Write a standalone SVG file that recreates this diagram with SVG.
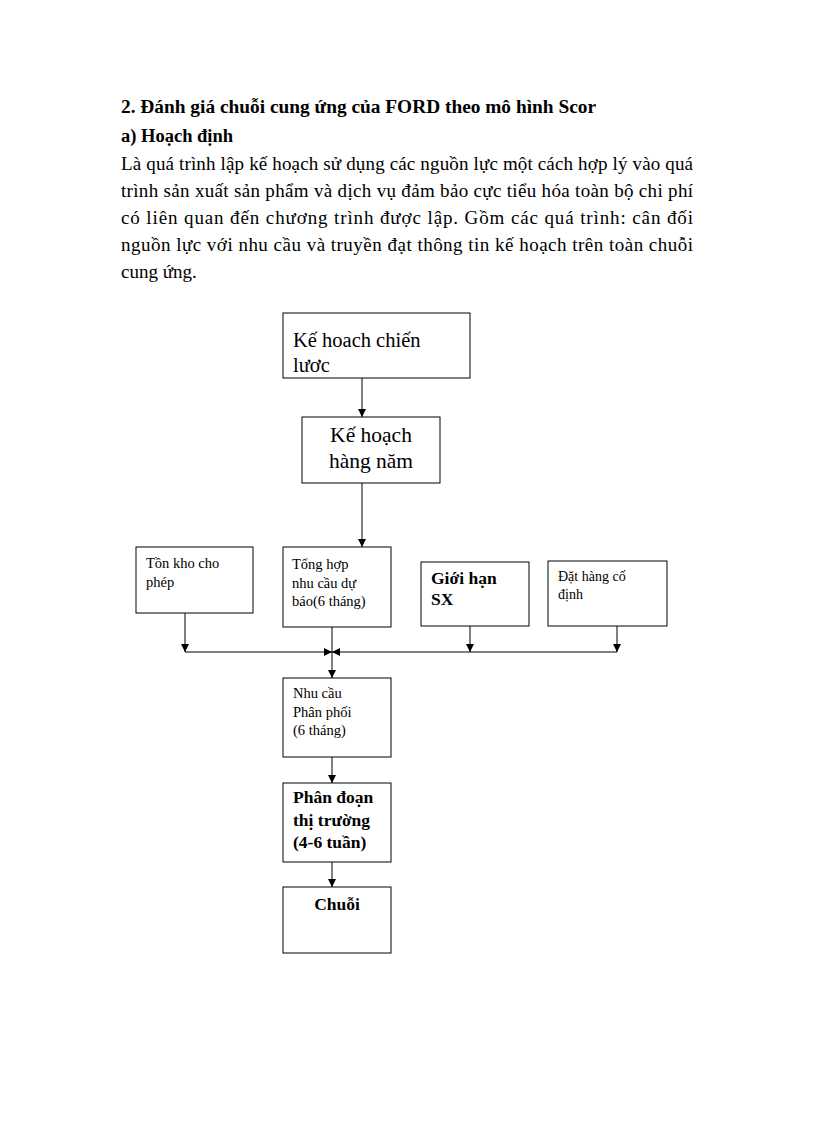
<svg xmlns="http://www.w3.org/2000/svg" width="816" height="1123" viewBox="0 0 816 1123">
<defs>
<style>
.t{font-family:"Liberation Serif","Times New Roman",serif;fill:#000}
.b{font-weight:bold}
.box{fill:#fff;stroke:#000;stroke-width:1}
.ln{fill:none;stroke:#000;stroke-width:1}
</style>
<marker id="ar" viewBox="0 0 10 10" refX="10" refY="5" markerWidth="8" markerHeight="8" markerUnits="userSpaceOnUse" orient="auto">
<path d="M0,0 L10,5 L0,10 z" fill="#000"/>
</marker>
</defs>
<rect width="816" height="1123" fill="#fff"/>
<g id="heading">
<text class="t b" x="121" y="113" font-size="18.5" textLength="475" lengthAdjust="spacingAndGlyphs">2. Đánh giá chuỗi cung ứng của FORD theo mô hình Scor</text>
<text class="t b" x="121" y="142" font-size="18.5">a) Hoạch định</text>
<text class="t" x="121" y="170" font-size="19" textLength="572" lengthAdjust="spacing">Là quá trình lập kế hoạch sử dụng các nguồn lực một cách hợp lý vào quá</text>
<text class="t" x="121" y="197" font-size="19" textLength="572" lengthAdjust="spacing">trình sản xuất sản phẩm và dịch vụ đảm bảo cực tiểu hóa toàn bộ chi phí</text>
<text class="t" x="121" y="224" font-size="19" textLength="572" lengthAdjust="spacing">có liên quan đến chương trình được lập. Gồm các quá trình: cân đối</text>
<text class="t" x="121" y="251" font-size="19" textLength="572" lengthAdjust="spacing">nguồn lực với nhu cầu và truyền đạt thông tin kế hoạch trên toàn chuỗi</text>
<text class="t" x="121" y="278" font-size="19">cung ứng.</text>
</g>
<g id="connectors">
<line class="ln" x1="362" y1="378" x2="362" y2="417" marker-end="url(#ar)"/>
<line class="ln" x1="362" y1="483" x2="362" y2="547" marker-end="url(#ar)"/>
<line class="ln" x1="185" y1="613" x2="185" y2="652" marker-end="url(#ar)"/>
<line class="ln" x1="470" y1="626" x2="470" y2="652" marker-end="url(#ar)"/>
<line class="ln" x1="617" y1="626" x2="617" y2="652" marker-end="url(#ar)"/>
<line class="ln" x1="185" y1="652" x2="332" y2="652" marker-end="url(#ar)"/>
<line class="ln" x1="617" y1="652" x2="332" y2="652" marker-end="url(#ar)"/>
<line class="ln" x1="332" y1="627" x2="332" y2="678" marker-end="url(#ar)"/>
<line class="ln" x1="332" y1="757" x2="332" y2="783" marker-end="url(#ar)"/>
<line class="ln" x1="332" y1="862" x2="332" y2="887" marker-end="url(#ar)"/>
</g>
<g id="n1">
<rect class="box" x="283" y="313" width="187" height="65"/>
<text class="t" x="293" y="347" font-size="20.5">Kế hoach chiến</text>
<text class="t" x="293" y="372" font-size="20.5">lươc</text>
</g>
<g id="n2">
<rect class="box" x="302" y="417" width="138" height="66"/>
<text class="t" x="371" y="442" font-size="21.5" text-anchor="middle">Kế hoạch</text>
<text class="t" x="371" y="468" font-size="21.5" text-anchor="middle">hàng năm</text>
</g>
<g id="n3">
<rect class="box" x="136" y="547" width="117" height="66"/>
<text class="t" x="146" y="568" font-size="14.5">Tồn kho cho</text>
<text class="t" x="146" y="587" font-size="14.5">phép</text>
</g>
<g id="n4">
<rect class="box" x="283" y="547" width="108" height="80"/>
<text class="t" x="292" y="569" font-size="14.5">Tổng hợp</text>
<text class="t" x="292" y="588" font-size="14.5">nhu cầu dự</text>
<text class="t" x="292" y="606" font-size="14.5">báo(6 tháng)</text>
</g>
<g id="n5">
<rect class="box" x="421" y="562" width="108" height="64"/>
<text class="t b" x="431" y="584" font-size="17.5">Giới hạn</text>
<text class="t b" x="431" y="605" font-size="17.5">SX</text>
</g>
<g id="n6">
<rect class="box" x="548" y="561" width="119" height="65"/>
<text class="t" x="558" y="581" font-size="14">Đặt hàng cố</text>
<text class="t" x="558" y="599" font-size="14">định</text>
</g>
<g id="n7">
<rect class="box" x="283" y="678" width="108" height="79"/>
<text class="t" x="293" y="698" font-size="14.5">Nhu cầu</text>
<text class="t" x="293" y="717" font-size="14.5">Phân phối</text>
<text class="t" x="293" y="735" font-size="14.5">(6 tháng)</text>
</g>
<g id="n8">
<rect class="box" x="283" y="783" width="108" height="79"/>
<text class="t b" x="293" y="803" font-size="17.5">Phân đoạn</text>
<text class="t b" x="293" y="826" font-size="17.5">thị trường</text>
<text class="t b" x="293" y="848" font-size="17.5">(4-6 tuần)</text>
</g>
<g id="n9">
<rect class="box" x="283" y="887" width="108" height="66"/>
<text class="t b" x="337" y="910" font-size="17.5" text-anchor="middle">Chuỗi</text>
</g>
</svg>
